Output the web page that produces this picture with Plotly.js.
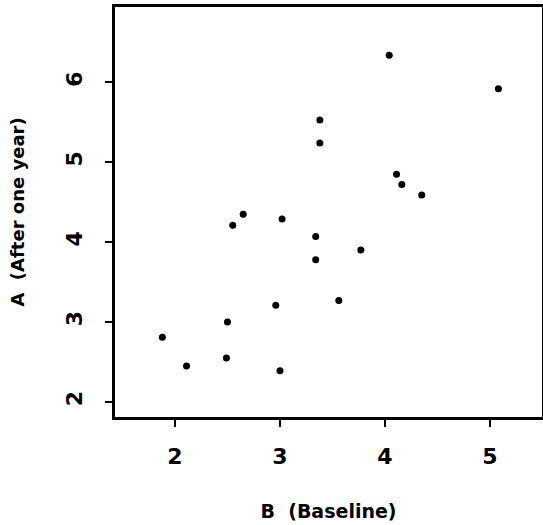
<!DOCTYPE html>
<html>
<head>
<meta charset="utf-8">
<script src="https://cdn.plot.ly/plotly-3.0.1.min.js"></script>
<style>html,body{margin:0;padding:0;background:#fff;}#chart{width:543px;height:525px;}</style>
</head>
<body>
<div id="chart"></div>
<script>
// Baseline (B) and after-one-year (A) values
const baselineB = [1.88, 2.11, 2.49, 2.50, 2.55, 2.65, 2.96, 3.00, 3.02, 3.34, 3.34, 3.38, 3.38, 3.56, 3.77, 4.04, 4.11, 4.16, 4.35, 5.08];
const afterA    = [2.81, 2.45, 2.55, 3.00, 4.21, 4.35, 3.21, 2.39, 4.29, 4.07, 3.78, 5.53, 5.24, 3.27, 3.90, 6.34, 4.85, 4.72, 4.59, 5.92];
const xTicks = [2, 3, 4, 5];
const yTicks = [2, 3, 4, 5, 6];
const xTitle = "B\u00a0\u00a0(Baseline)";
const yTitle = "A\u00a0\u00a0(After one year)";

const fontFam = "DejaVu Sans, Arial, sans-serif";
const data = [{
  type: "scatter",
  mode: "markers",
  x: baselineB,
  y: afterA,
  marker: {color: "#000", size: 7},
  hoverinfo: "x+y"
}];
const layout = {
  width: 543, height: 525,
  margin: {l: 115, r: 1, t: 7, b: 108, pad: 0},
  paper_bgcolor: "#fff", plot_bgcolor: "#fff",
  showlegend: false,
  font: {family: fontFam, color: "#000"},
  xaxis: {
    range: [1.429, 5.495],
    tickvals: xTicks, ticktext: xTicks.map(String),
    showgrid: false, zeroline: false,
    showline: true, mirror: true, linecolor: "#000", linewidth: 3,
    ticks: "outside", ticklen: 7, tickwidth: 2, tickcolor: "#000",
    tickfont: {family: fontFam, size: 22, weight: "bold", color: "#000"},
    ticklabelstandoff: 11,
    title: {text: xTitle, font: {family: fontFam, size: 19, weight: "bold", color: "#000"}, standoff: 37},
    automargin: false
  },
  yaxis: {
    range: [1.81, 6.944],
    tickvals: yTicks, ticktext: yTicks.map(String),
    showgrid: false, zeroline: false,
    showline: true, mirror: true, linecolor: "#000", linewidth: 3,
    ticks: "outside", ticklen: 7, tickwidth: 2, tickcolor: "#000",
    tickangle: -90,
    tickfont: {family: fontFam, size: 22, weight: "bold", color: "#000"},
    ticklabelstandoff: 14,
    title: {text: yTitle, font: {family: fontFam, size: 18, weight: "bold", color: "#000"}, standoff: 33},
    automargin: false
  }
};
Plotly.newPlot("chart", data, layout, {staticPlot: true, displayModeBar: false});
</script>
</body>
</html>
